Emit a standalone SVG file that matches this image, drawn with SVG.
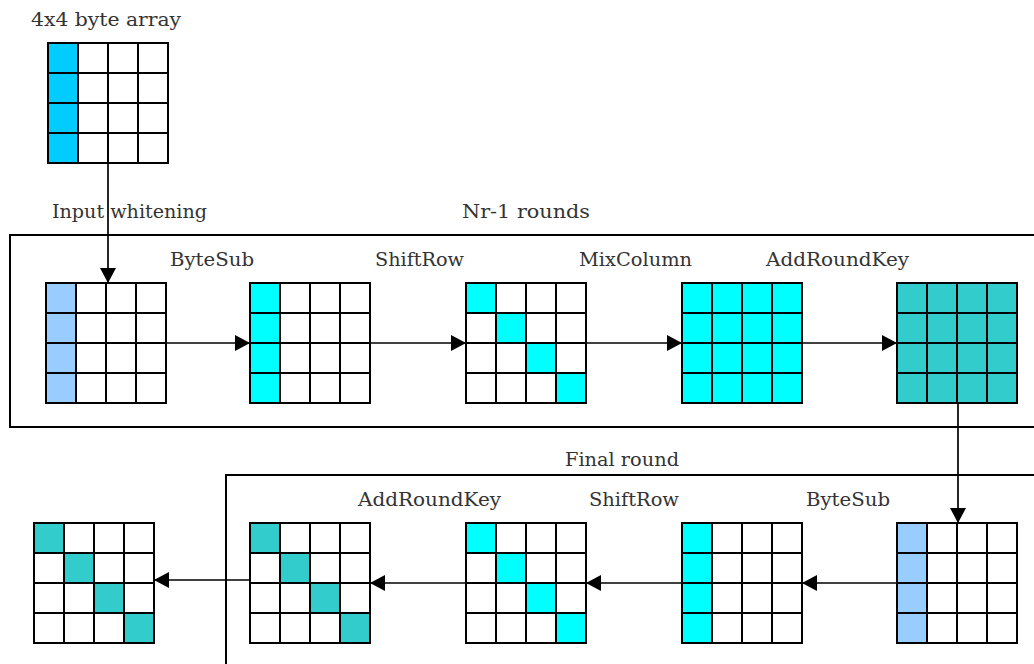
<svg xmlns="http://www.w3.org/2000/svg" xmlns:xlink="http://www.w3.org/1999/xlink" width="1034" height="664" viewBox="0 0 1034 664">
<style>
.lbl{font-family:"DejaVu Serif","Liberation Serif",serif;font-size:18px;fill:#333}
.box{fill:none;stroke:#000;stroke-width:2}
.bg{fill:#fff}
.gl{fill:none;stroke:#000;stroke-width:2}
.c1{fill:#00CCFF}
.lb{fill:#99CCFF}
.cy{fill:#00FFFF}
.tl{fill:#33CCCC}
.conn path{fill:none;stroke:#000;stroke-width:1.7}
</style>
<defs>
<g id="gridlines" class="gl"><rect x="0" y="0" width="120" height="120"/><path d="M30 0V120M60 0V120M90 0V120M0 30H120M0 60H120M0 90H120"/></g>
<marker id="ah" markerUnits="userSpaceOnUse" markerWidth="15" markerHeight="16" refX="15" refY="8" orient="auto"><path d="M0 0L15 8L0 16z" fill="#000"/></marker>
</defs>
<rect width="1034" height="664" fill="#fff"/>
<g id="frames">
<rect class="box" x="10" y="235" width="1040" height="192"/>
<rect class="box" x="226" y="475" width="820" height="200"/>
</g>
<g id="labels">
<text class="lbl" x="31" y="26" textLength="150" lengthAdjust="spacingAndGlyphs">4x4 byte array</text>
<text class="lbl" x="52" y="218" textLength="155" lengthAdjust="spacingAndGlyphs">Input whitening</text>
<text class="lbl" x="462" y="218" textLength="128" lengthAdjust="spacingAndGlyphs">Nr-1 rounds</text>
<text class="lbl" x="170" y="266" textLength="84" lengthAdjust="spacingAndGlyphs">ByteSub</text>
<text class="lbl" x="375" y="266" textLength="89" lengthAdjust="spacingAndGlyphs">ShiftRow</text>
<text class="lbl" x="579" y="266" textLength="113" lengthAdjust="spacingAndGlyphs">MixColumn</text>
<text class="lbl" x="766" y="266" textLength="143" lengthAdjust="spacingAndGlyphs">AddRoundKey</text>
<text class="lbl" x="565" y="466" textLength="114" lengthAdjust="spacingAndGlyphs">Final round</text>
<text class="lbl" x="358" y="506" textLength="143" lengthAdjust="spacingAndGlyphs">AddRoundKey</text>
<text class="lbl" x="589" y="506" textLength="90" lengthAdjust="spacingAndGlyphs">ShiftRow</text>
<text class="lbl" x="806" y="506" textLength="84" lengthAdjust="spacingAndGlyphs">ByteSub</text>
</g>
<g id="input" transform="translate(48,43)">
<rect class="bg" width="120" height="120"/>
<rect class="c1" x="0" y="0" width="30" height="120"/>
<use xlink:href="#gridlines" href="#gridlines"/>
</g>
<g id="whitened" transform="translate(46,283)">
<rect class="bg" width="120" height="120"/>
<rect class="lb" x="0" y="0" width="30" height="120"/>
<use xlink:href="#gridlines" href="#gridlines"/>
</g>
<g id="bytesub" transform="translate(250,283)">
<rect class="bg" width="120" height="120"/>
<rect class="cy" x="0" y="0" width="30" height="120"/>
<use xlink:href="#gridlines" href="#gridlines"/>
</g>
<g id="shiftrow" transform="translate(466,283)">
<rect class="bg" width="120" height="120"/>
<rect class="cy" x="0" y="0" width="30" height="30"/>
<rect class="cy" x="30" y="30" width="30" height="30"/>
<rect class="cy" x="60" y="60" width="30" height="30"/>
<rect class="cy" x="90" y="90" width="30" height="30"/>
<use xlink:href="#gridlines" href="#gridlines"/>
</g>
<g id="mixcolumn" transform="translate(682,283)">
<rect class="cy" width="120" height="120"/>
<use xlink:href="#gridlines" href="#gridlines"/>
</g>
<g id="addroundkey" transform="translate(897,283)">
<rect class="tl" width="120" height="120"/>
<use xlink:href="#gridlines" href="#gridlines"/>
</g>
<g id="final-in" transform="translate(897,523)">
<rect class="bg" width="120" height="120"/>
<rect class="lb" x="0" y="0" width="30" height="120"/>
<use xlink:href="#gridlines" href="#gridlines"/>
</g>
<g id="final-bytesub" transform="translate(682,523)">
<rect class="bg" width="120" height="120"/>
<rect class="cy" x="0" y="0" width="30" height="120"/>
<use xlink:href="#gridlines" href="#gridlines"/>
</g>
<g id="final-shiftrow" transform="translate(466,523)">
<rect class="bg" width="120" height="120"/>
<rect class="cy" x="0" y="0" width="30" height="30"/>
<rect class="cy" x="30" y="30" width="30" height="30"/>
<rect class="cy" x="60" y="60" width="30" height="30"/>
<rect class="cy" x="90" y="90" width="30" height="30"/>
<use xlink:href="#gridlines" href="#gridlines"/>
</g>
<g id="final-addroundkey" transform="translate(250,523)">
<rect class="bg" width="120" height="120"/>
<rect class="tl" x="0" y="0" width="30" height="30"/>
<rect class="tl" x="30" y="30" width="30" height="30"/>
<rect class="tl" x="60" y="60" width="30" height="30"/>
<rect class="tl" x="90" y="90" width="30" height="30"/>
<use xlink:href="#gridlines" href="#gridlines"/>
</g>
<g id="output" transform="translate(34,523)">
<rect class="bg" width="120" height="120"/>
<rect class="tl" x="0" y="0" width="30" height="30"/>
<rect class="tl" x="30" y="30" width="30" height="30"/>
<rect class="tl" x="60" y="60" width="30" height="30"/>
<rect class="tl" x="90" y="90" width="30" height="30"/>
<use xlink:href="#gridlines" href="#gridlines"/>
</g>
<g id="connectors" class="conn">
<path d="M108 163V283" marker-end="url(#ah)"/>
<path d="M166 343H250" marker-end="url(#ah)"/>
<path d="M370 343H466" marker-end="url(#ah)"/>
<path d="M586 343H682" marker-end="url(#ah)"/>
<path d="M802 343H897" marker-end="url(#ah)"/>
<path d="M958 403V523" marker-end="url(#ah)"/>
<path d="M897 583H802" marker-end="url(#ah)"/>
<path d="M682 583H586" marker-end="url(#ah)"/>
<path d="M466 583H370" marker-end="url(#ah)"/>
<path d="M250 580H154" marker-end="url(#ah)"/>
</g>
</svg>
